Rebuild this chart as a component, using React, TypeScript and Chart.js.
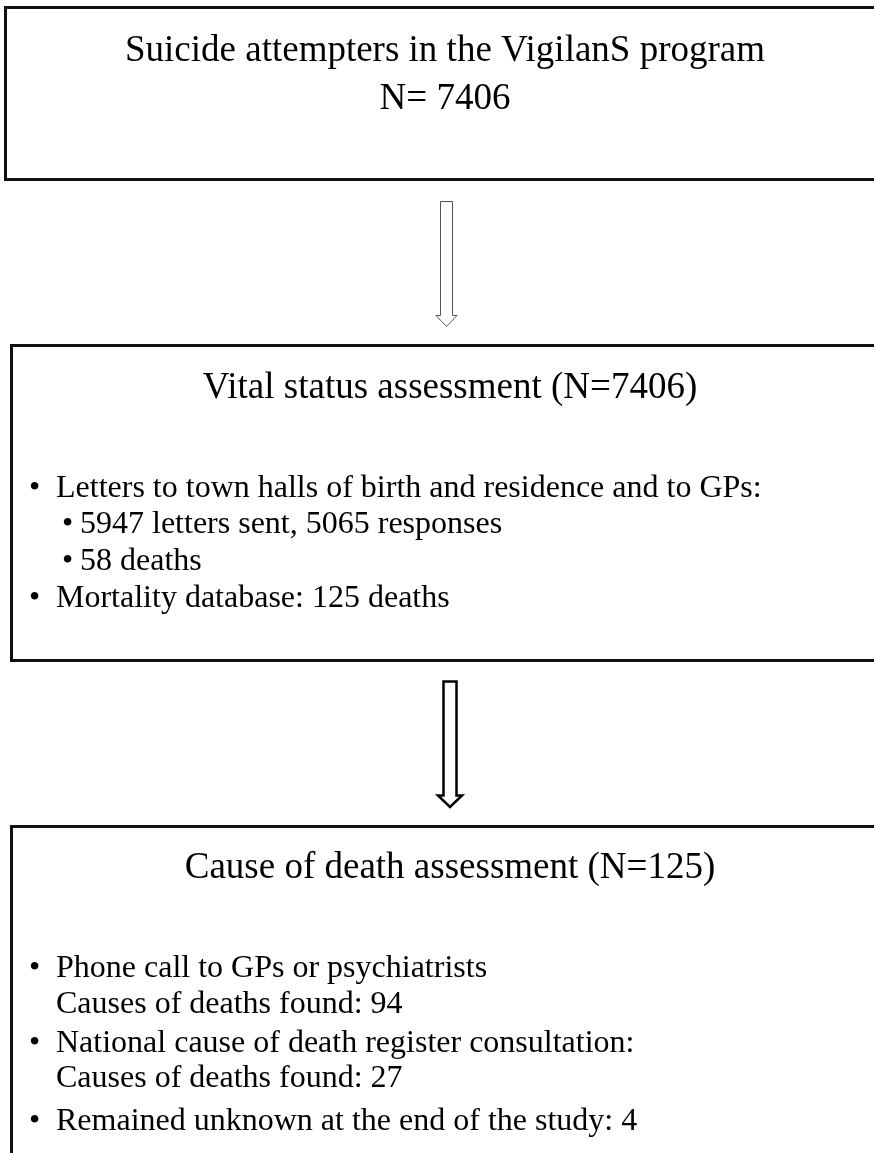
import React, { useEffect, useRef } from "react";
import { Chart, registerables } from "chart.js";

Chart.register(...registerables);

// ---- content ----
const topBoxLines = ["Suicide attempters in the VigilanS program", "N= 7406"];
const vitalTitle = "Vital status assessment (N=7406)";
const vitalItems = [
  { level: 0, bullet: true, text: "Letters to town halls of birth and residence and to GPs:" },
  { level: 1, bullet: true, text: "5947 letters sent, 5065 responses" },
  { level: 1, bullet: true, text: "58 deaths" },
  { level: 0, bullet: true, text: "Mortality database: 125 deaths" },
];
const causeTitle = "Cause of death assessment (N=125)";
const causeItems = [
  { level: 0, bullet: true, text: "Phone call to GPs or psychiatrists" },
  { level: 0, bullet: false, text: "Causes of deaths found: 94" },
  { level: 0, bullet: true, text: "National cause of death register consultation:" },
  { level: 0, bullet: false, text: "Causes of deaths found: 27" },
  { level: 0, bullet: true, text: "Remained unknown at the end of the study: 4" },
];

// ---- layout (page coordinates) ----
const W = 874;
const H = 1153;
const FONT = '"Liberation Serif", "Times New Roman", serif';

const flowPlugin = {
  id: "flow",
  afterDraw(chart: any) {
    const ctx = chart.ctx as CanvasRenderingContext2D;
    const xs = chart.scales.x;
    const ys = chart.scales.y;
    const X = (v: number) => xs.getPixelForValue(v);
    const Y = (v: number) => ys.getPixelForValue(v);

    ctx.save();
    ctx.fillStyle = "#fff";
    ctx.fillRect(0, 0, chart.width, chart.height);

    const box = (l: number, t: number, b: number, lw: number) => {
      ctx.strokeStyle = "#111";
      ctx.lineWidth = lw;
      ctx.strokeRect(X(l), Y(t), X(W + 20) - X(l), Y(b) - Y(t));
    };
    const arrow = (
      sx1: number, sx2: number, top: number, hs: number,
      hx1: number, hx2: number, tip: number, color: string, lw: number
    ) => {
      const cx = (hx1 + hx2) / 2;
      ctx.beginPath();
      ctx.moveTo(X(sx1), Y(top));
      ctx.lineTo(X(sx1), Y(hs));
      ctx.lineTo(X(hx1), Y(hs));
      ctx.lineTo(X(cx), Y(tip));
      ctx.lineTo(X(hx2), Y(hs));
      ctx.lineTo(X(sx2), Y(hs));
      ctx.lineTo(X(sx2), Y(top));
      ctx.closePath();
      ctx.fillStyle = "#fff";
      ctx.fill();
      ctx.strokeStyle = color;
      ctx.lineWidth = lw;
      ctx.lineJoin = "miter";
      ctx.stroke();
    };
    const center = (s: string, cx: number, base: number, size: number) => {
      ctx.font = `${size}px ${FONT}`;
      ctx.fillStyle = "#000";
      ctx.textAlign = "center";
      ctx.textBaseline = "alphabetic";
      ctx.fillText(s, X(cx), Y(base));
    };
    const items = (list: typeof vitalItems, baselines: number[], size: number) => {
      ctx.font = `${size}px ${FONT}`;
      ctx.fillStyle = "#000";
      ctx.textAlign = "left";
      ctx.textBaseline = "alphabetic";
      list.forEach((it, i) => {
        const bx = it.level === 0 ? 29 : 62;
        const tx = it.level === 0 ? 56 : 80;
        if (it.bullet) ctx.fillText("\u2022", X(bx), Y(baselines[i]));
        ctx.fillText(it.text, X(tx), Y(baselines[i]));
      });
    };

    // boxes
    box(5.5, 7.5, 179.5, 3);
    box(11.5, 345.5, 660.5, 3);
    box(11.5, 826.5, 1200, 3);

    // arrows
    arrow(440.5, 452.5, 201.5, 315.5, 436, 457, 326.5, "#555", 1);
    arrow(443.5, 456.5, 681.5, 795.5, 438, 462, 807, "#000", 2.5);

    // top box
    center(topBoxLines[0], 445, 61, 37);
    center(topBoxLines[1], 445, 109, 37);

    // vital box
    center(vitalTitle, 450, 398, 37);
    items(vitalItems, [497, 533, 570, 607], 32);

    // cause box
    center(causeTitle, 450, 878, 37);
    items(causeItems, [977, 1013, 1052, 1087, 1130], 32);

    ctx.restore();
  },
};

export default function App() {
  const ref = useRef<HTMLCanvasElement | null>(null);
  useEffect(() => {
    document.body.style.margin = "0";
    const canvas = ref.current!;
    const chart = new Chart(canvas, {
      type: "scatter",
      data: { datasets: [] },
      options: {
        animation: false,
        responsive: false,
        devicePixelRatio: 1,
        layout: { padding: 0 },
        plugins: { legend: { display: false }, tooltip: { enabled: false }, title: { display: false } },
        scales: {
          x: { type: "linear", min: 0, max: W, display: false },
          y: { type: "linear", min: 0, max: H, reverse: true, display: false },
        },
      },
      plugins: [flowPlugin],
    });
    return () => chart.destroy();
  }, []);
  return (
    <div style={{ width: W, height: H, overflow: "hidden" }}>
      <canvas ref={ref} width={W} height={H} style={{ display: "block", width: W, height: H }} />
    </div>
  );
}
